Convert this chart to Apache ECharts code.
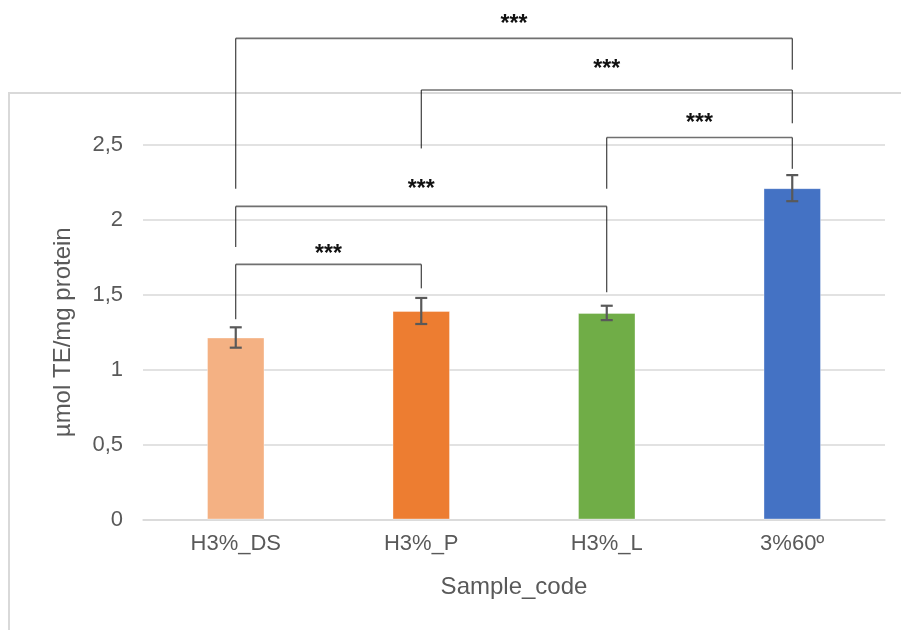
<!DOCTYPE html>
<html>
<head>
<meta charset="utf-8">
<script src="https://cdn.jsdelivr.net/npm/echarts@6/dist/echarts.min.js"></script>
<style>
html,body{margin:0;padding:0;background:#fff;}
#chart{width:901px;height:630px;}
</style>
</head>
<body>
<div id="chart"></div>
<script>
// ---- data ----
var categories = ['H3%_DS', 'H3%_P', 'H3%_L', '3%60º'];
var means = [1.215, 1.392, 1.379, 2.212];
var errors = [0.068, 0.087, 0.048, 0.087];
var barColors = ['#F4B183', '#ED7D31', '#70AD47', '#4472C4'];
var yTicks = [0, 0.5, 1, 1.5, 2, 2.5];
// significance brackets: [fromIndex, toIndex, barY, leftEndY, rightEndY, labelY]
var bracketFrom = [0, 1, 2, 0, 0];
var bracketTo = [3, 3, 3, 2, 1];
var bracketTop = [3.212, 2.867, 2.55, 2.09, 1.703];
var bracketLeftEnd = [2.208, 2.477, 2.208, 1.819, 1.337];
var bracketRightEnd = [3.003, 2.645, 2.341, 1.517, 1.543];
var bracketLabelY = [3.337, 3.037, 2.673, 2.237, 1.803];
var bracketText = ['***', '***', '***', '***', '***'];

var chart = echarts.init(document.getElementById('chart'), null, {renderer: 'canvas'});

var barData = means.map(function (v, i) {
  return {value: v, itemStyle: {color: barColors[i]}};
});
var errData = means.map(function (v, i) {
  return [i, v - errors[i], v + errors[i]];
});
var bracketData = bracketFrom.map(function (f, i) {
  return [f, bracketTo[i], bracketTop[i], bracketLeftEnd[i], bracketRightEnd[i], bracketLabelY[i], i];
});

var option = {
  animation: false,
  backgroundColor: '#ffffff',
  textStyle: {fontFamily: 'Liberation Sans, Arial, sans-serif'},
  graphic: [{
    type: 'rect',
    shape: {x: 9, y: 93, width: 1000, height: 1000},
    style: {fill: 'none', stroke: '#d9d9d9', lineWidth: 2},
    silent: true, z: -10
  }],
  grid: {left: 143, right: 16, top: 145, bottom: 110.5, containLabel: false},
  xAxis: {
    type: 'category',
    data: categories,
    name: 'Sample_code',
    nameLocation: 'middle',
    nameGap: 56,
    nameTextStyle: {color: '#595959', fontSize: 24, fontFamily: 'Liberation Sans, Arial, sans-serif'},
    axisLine: {lineStyle: {color: '#d9d9d9', width: 1.5}},
    axisTick: {show: false},
    axisLabel: {color: '#595959', fontSize: 22, margin: 13, fontFamily: 'Liberation Sans, Arial, sans-serif'}
  },
  yAxis: {
    type: 'value',
    min: 0, max: 2.5, interval: 0.5,
    name: 'µmol TE/mg protein',
    nameLocation: 'middle',
    nameRotate: 90,
    nameGap: 68,
    nameTextStyle: {color: '#595959', fontSize: 24, fontFamily: 'Liberation Sans, Arial, sans-serif'},
    axisLine: {show: false},
    axisTick: {show: false},
    splitLine: {lineStyle: {color: '#d9d9d9', width: 1.5}},
    axisLabel: {
      color: '#595959', fontSize: 22, margin: 20,
      fontFamily: 'Liberation Sans, Arial, sans-serif',
      formatter: function (v) {
        return yTicks.indexOf(v) >= 0 ? String(v).replace('.', ',') : '';
      }
    }
  },
  series: [
    {
      type: 'bar',
      data: barData,
      barWidth: '31%',
      itemStyle: {borderColor: 'rgba(255,255,255,0.35)', borderWidth: 1}
    },
    {
      type: 'custom',
      data: errData,
      encode: {x: 0, y: [1, 2]},
      z: 5,
      renderItem: function (params, api) {
        var x = api.value(0);
        var lo = api.coord([x, api.value(1)]);
        var hi = api.coord([x, api.value(2)]);
        var cw = 6;
        var st = {stroke: '#595959', lineWidth: 2.2};
        return {
          type: 'group',
          children: [
            {type: 'line', shape: {x1: lo[0], y1: lo[1], x2: hi[0], y2: hi[1]}, style: st},
            {type: 'line', shape: {x1: hi[0] - cw, y1: hi[1], x2: hi[0] + cw, y2: hi[1]}, style: st},
            {type: 'line', shape: {x1: lo[0] - cw, y1: lo[1], x2: lo[0] + cw, y2: lo[1]}, style: st}
          ]
        };
      }
    },
    {
      type: 'custom',
      data: bracketData,
      encode: {x: 0, y: 2},
      clip: false,
      z: 6,
      renderItem: function (params, api) {
        var f = api.value(0), t = api.value(1);
        var topL = api.coord([f, api.value(2)]);
        var topR = api.coord([t, api.value(2)]);
        var endL = api.coord([f, api.value(3)]);
        var endR = api.coord([t, api.value(4)]);
        var lab = api.coord([f, api.value(5)]);
        var midX = (topL[0] + topR[0]) / 2;
        var vst = {stroke: '#1a1a1a', lineWidth: 1};
        var hst = {stroke: '#707070', lineWidth: 1.6};
        return {
          type: 'group',
          children: [
            {type: 'line', shape: {x1: topL[0], y1: topL[1], x2: topR[0], y2: topR[1]}, style: hst},
            {type: 'line', shape: {x1: topL[0], y1: topL[1], x2: endL[0], y2: endL[1]}, style: vst},
            {type: 'line', shape: {x1: topR[0], y1: topR[1], x2: endR[0], y2: endR[1]}, style: vst},
            {type: 'text', x: midX, y: lab[1] + 5,
              style: {text: bracketText[api.value(6)], fill: '#111', font: 'bold 23px "Liberation Sans", Arial, sans-serif', align: 'center', verticalAlign: 'middle'}}
          ]
        };
      }
    }
  ]
};
chart.setOption(option);
</script>
</body>
</html>
